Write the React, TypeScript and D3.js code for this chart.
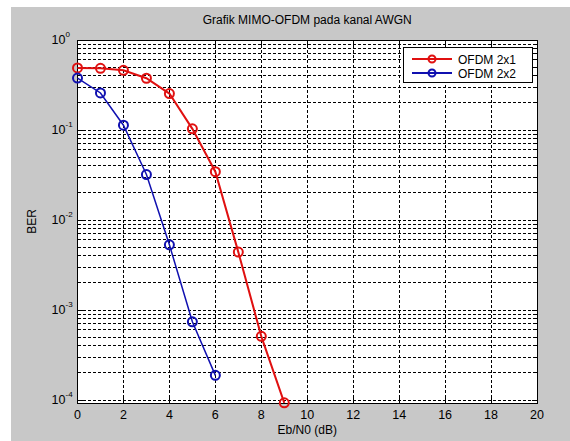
import React from "react";
import * as d3 from "d3";

const snrX = [0, 1, 2, 3, 4, 5, 6, 7, 8, 9];
const berOfdm2x1 = [0.49, 0.485, 0.46, 0.376, 0.254, 0.103, 0.0344, 0.0044, 0.00051, 0.000093];
const snrX2 = [0, 1, 2, 3, 4, 5, 6];
const berOfdm2x2 = [0.378, 0.258, 0.113, 0.032, 0.0053, 0.00074, 0.000188];
const xTicks = [0, 2, 4, 6, 8, 10, 12, 14, 16, 18, 20];
const yExps = [0, -1, -2, -3, -4];
const seriesNames = ["OFDM 2x1", "OFDM 2x2"];
const seriesColors = ["#e01010", "#1010b0"];

const W = 570, H = 441;
const L = 77.5, T = 40, R = 537, B = 403;

export default function App() {
  const x = d3.scaleLinear().domain([0, 20]).range([L, R]);
  const y = d3.scaleLog().domain([Math.pow(10, -4.033), 1]).range([B, T]);
  const line = d3.line<[number, number]>().x(d => x(d[0])).y(d => y(d[1]));
  const minor: number[] = [];
  for (let e = -4; e < 0; e++) for (let k = 2; k <= 9; k++) minor.push(k * Math.pow(10, e));
  const font = "'Liberation Sans', Arial, sans-serif";
  const dash = "3,2";
  const s1 = snrX.map((v, i) => [v, berOfdm2x1[i]] as [number, number]);
  const s2 = snrX2.map((v, i) => [v, berOfdm2x2[i]] as [number, number]);
  const ce = "crispEdges";
  return (
    <svg width={W} height={H} style={{ position: "absolute", left: 0, top: 0 }}>
      <rect x={0} y={0} width={W} height={H} fill="#ffffff" />
      <rect x={11} y={7} width={W - 11} height={H - 7} fill="#c8c8c8" />
      <rect x={L} y={T} width={R - L} height={B - T} fill="#ffffff" />
      {/* grid */}
      {xTicks.map(t => (
        <line key={"gx" + t} x1={x(t)} x2={x(t)} y1={T} y2={B} stroke="#000" strokeWidth={1} strokeDasharray={dash} shapeRendering={ce} />
      ))}
      {yExps.map(e => (
        <line key={"gy" + e} x1={L} x2={R} y1={y(Math.pow(10, e))} y2={y(Math.pow(10, e))} stroke="#000" strokeWidth={1} strokeDasharray={dash} shapeRendering={ce} />
      ))}
      {minor.map((m, i) => (
        <line key={"gm" + i} x1={L} x2={R} y1={y(m)} y2={y(m)} stroke="#000" strokeWidth={1} strokeDasharray={dash} shapeRendering={ce} />
      ))}
      {/* ticks */}
      {xTicks.map(t => (
        <g key={"tx" + t}>
          <line x1={x(t)} x2={x(t)} y1={B} y2={B - 5} stroke="#000" shapeRendering={ce} />
          <line x1={x(t)} x2={x(t)} y1={T} y2={T + 5} stroke="#000" shapeRendering={ce} />
          <text x={x(t)} y={B + 16} textAnchor="middle" fontFamily={font} fontSize={12.5} fill="#000">{t}</text>
        </g>
      ))}
      {yExps.map(e => (
        <g key={"ty" + e}>
          <line x1={L} x2={L + 5} y1={y(Math.pow(10, e))} y2={y(Math.pow(10, e))} stroke="#000" shapeRendering={ce} />
          <line x1={R} x2={R - 5} y1={y(Math.pow(10, e))} y2={y(Math.pow(10, e))} stroke="#000" shapeRendering={ce} />
          <text x={L - 12} y={y(Math.pow(10, e)) + 4} textAnchor="end" fontFamily={font} fontSize={12.5} fill="#000">10</text>
          <text x={L - 12} y={y(Math.pow(10, e)) - 3} textAnchor="start" fontFamily={font} fontSize={8} fill="#000">{e === 0 ? "0" : "-" + Math.abs(e)}</text>
        </g>
      ))}
      {minor.map((m, i) => (
        <g key={"tm" + i}>
          <line x1={L} x2={L + 3} y1={y(m)} y2={y(m)} stroke="#000" shapeRendering={ce} />
          <line x1={R} x2={R - 3} y1={y(m)} y2={y(m)} stroke="#000" shapeRendering={ce} />
        </g>
      ))}
      <rect x={L} y={T} width={R - L} height={B - T} fill="none" stroke="#000" strokeWidth={1} shapeRendering={ce} />
      {/* series */}
      <path d={line(s1) || ""} fill="none" stroke={seriesColors[0]} strokeWidth={2} />
      {s1.map((d, i) => (
        <circle key={"c1" + i} cx={x(d[0])} cy={y(d[1])} r={4.5} fill="none" stroke={seriesColors[0]} strokeWidth={2} />
      ))}
      <path d={line(s2) || ""} fill="none" stroke={seriesColors[1]} strokeWidth={1.5} />
      {s2.map((d, i) => (
        <circle key={"c2" + i} cx={x(d[0])} cy={y(d[1])} r={4.5} fill="none" stroke={seriesColors[1]} strokeWidth={2} />
      ))}
      {/* title & labels */}
      <text x={(L + R) / 2} y={24} textAnchor="middle" fontFamily={font} fontSize={12} fill="#000">Grafik MIMO-OFDM pada kanal AWGN</text>
      <text x={(L + R) / 2} y={434} textAnchor="middle" fontFamily={font} fontSize={12} fill="#000">Eb/N0 (dB)</text>
      <text transform={`translate(36,${(T + B) / 2}) rotate(-90)`} textAnchor="middle" fontFamily={font} fontSize={12} fill="#000">BER</text>
      {/* legend */}
      <rect x={403} y={47.5} width={129} height={35} fill="#ffffff" stroke="#000" strokeWidth={1} shapeRendering={ce} />
      {seriesNames.map((n, i) => (
        <g key={"lg" + i}>
          <line x1={412} x2={452} y1={59 + i * 14} y2={59 + i * 14} stroke={seriesColors[i]} strokeWidth={2} />
          <circle cx={432} cy={59 + i * 14} r={3.5} fill="none" stroke={seriesColors[i]} strokeWidth={2} />
          <text x={458} y={63.5 + i * 14} fontFamily={font} fontSize={12} fill="#000">{n}</text>
        </g>
      ))}
    </svg>
  );
}
